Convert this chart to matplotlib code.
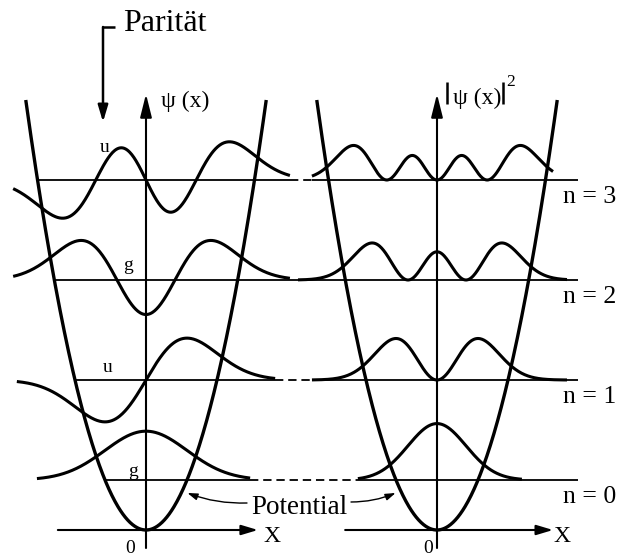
import matplotlib
matplotlib.use("Agg")
import matplotlib.pyplot as plt
import numpy as np
from math import factorial, pi, sqrt
from numpy.polynomial.hermite import hermval

plt.rcParams["font.family"] = ["Liberation Serif", "DejaVu Serif"]
plt.rcParams["lines.scale_dashes"] = False

# quantum numbers, parity labels and level labels
levels = [0, 1, 2, 3]
parity = ["g", "u", "g", "u"]
level_labels = ["n = 0", "n = 1", "n = 2", "n = 3"]

# where the drawn tails stop (oscillator units)
psi_left = [-2.66, -3.15, -3.24, -3.24]
psi_right = [2.54, 3.15, 3.51, 3.51]
prob_left = [-1.93, -3.05, -3.39, -3.05]
prob_right = [2.07, 3.17, 3.17, 2.83]

# parity label positions (pixels)
parity_pos = [(133, 472), (108, 367), (128, 265), (105, 147)]

W, H = 619, 557
PX_X, PX_E = 41.0, 100.0         # pixels per oscillator unit
LEFT_C = 0.0
RIGHT_C = 291 / PX_X
PSI_SCALE = 0.65
PROB_SCALE = 1.0
V_TOP = 4.3


def psi(n, x):
    c = np.zeros(n + 1)
    c[n] = 1.0
    norm = 1.0 / sqrt(2 ** n * factorial(n)) * pi ** -0.25
    return norm * hermval(x, c) * np.exp(-x ** 2 / 2)


def to_data(px, py):
    # figure pixel -> oscillator units
    return (px - 146) / PX_X, (530 - py) / PX_E


fig = plt.figure(figsize=(W / 100, H / 100), dpi=100)
ax = fig.add_axes([0, 0, 1, 1])
ax.set_xlim(-146 / PX_X, (W - 146) / PX_X)
ax.set_ylim(-27 / PX_E, 530 / PX_E)
ax.axis("off")

ov = fig.add_axes([0, 0, 1, 1])
ov.set_xlim(0, W)
ov.set_ylim(H, 0)
ov.axis("off")
ov.patch.set_alpha(0)

k = dict(color="black", solid_capstyle="butt")

# potential in both panels
xv = np.linspace(-sqrt(2 * V_TOP), sqrt(2 * V_TOP), 400)
for c in (LEFT_C, RIGHT_C):
    ax.plot(c + xv, xv ** 2 / 2, lw=2.4, **k)

for n in levels:
    E = n + 0.5
    xt = sqrt(2 * E)
    # energy level lines
    ax.plot([LEFT_C - xt, LEFT_C + psi_right[n]], [E, E], lw=1.3, **k)
    ax.plot([LEFT_C + psi_right[n], RIGHT_C + prob_left[n]], [E, E],
            lw=1.3, dashes=(6, 3.5), color="black")
    ax.plot([RIGHT_C + prob_left[n], RIGHT_C + 3.44], [E, E], lw=1.3, **k)

    # wave function
    x = np.linspace(psi_left[n], psi_right[n], 400)
    ax.plot(LEFT_C + x, E + PSI_SCALE * psi(n, x), lw=2.2, **k)
    # probability density
    x = np.linspace(prob_left[n], prob_right[n], 400)
    ax.plot(RIGHT_C + x, E + PROB_SCALE * psi(n, x) ** 2, lw=2.2, **k)

    ov.text(parity_pos[n][0], parity_pos[n][1], parity[n], fontsize=14,
            ha="center", va="center")
    ov.text(563, (530 - E * PX_E) + 23, level_labels[n], fontsize=18.5,
            ha="left", va="baseline")

# coordinate axes with arrows
vstyle = "-|>,head_length=1.4,head_width=0.35"
hstyle = "-|>,head_length=1.0,head_width=0.3"
for c, x0, x1 in ((LEFT_C, -2.15, 2.73), (RIGHT_C, -2.24, 2.83)):
    ax.annotate("", xy=(c, 4.36), xytext=(c, -0.18),
                arrowprops=dict(arrowstyle=vstyle, lw=1.5, color="black",
                                shrinkA=0, shrinkB=0))
    ax.annotate("", xy=(c + x1, 0), xytext=(c + x0, 0),
                arrowprops=dict(arrowstyle=hstyle, lw=1.5, color="black",
                                shrinkA=0, shrinkB=0))

ov.text(161, 107, "ψ (x)", fontsize=17, ha="left", va="baseline")
# |psi(x)|^2 label, bars drawn as strokes
ov.text(453, 104, "ψ (x)", fontsize=17, ha="left", va="baseline")
ov.plot([447, 447], [82, 104], lw=1.8, **k)
ov.plot([503, 503], [82, 104], lw=1.8, **k)
ov.text(506, 86, "2", fontsize=12.5, ha="left", va="baseline")
ov.text(263, 542, "X", fontsize=17, ha="left", va="baseline")
ov.text(553, 542, "X", fontsize=17, ha="left", va="baseline")
ov.text(130, 553, "0", fontsize=14, ha="center", va="baseline")
ov.text(428, 553, "0", fontsize=14, ha="center", va="baseline")

# Potential label with arrows to the curves
ov.text(299, 514, "Potential", fontsize=19.5, ha="center", va="baseline")
E_arr = 0.37
xa = sqrt(2 * E_arr)
aprops = dict(arrowstyle="-|>,head_length=0.6,head_width=0.2",
              lw=1.0, color="black", shrinkA=0, shrinkB=0)
ax.annotate("", xy=(LEFT_C + xa + 0.15, E_arr), xytext=to_data(247, 503),
            arrowprops=dict(aprops, connectionstyle="arc3,rad=-0.1"))
ax.annotate("", xy=(RIGHT_C - xa - 0.15, E_arr), xytext=to_data(351, 502),
            arrowprops=dict(aprops, connectionstyle="arc3,rad=0.1"))

# Parität bracket
ov.plot([115, 103], [27, 27], lw=1.8, **k)
ov.annotate("", xy=(103, 122), xytext=(103, 27),
            arrowprops=dict(arrowstyle="-|>,head_length=1.0,head_width=0.3",
                            lw=1.8, color="black", shrinkA=0, shrinkB=0))
ov.text(123, 31, "Parität", fontsize=23, ha="left", va="baseline")

fig.savefig("out.png", dpi=100, facecolor="white")
